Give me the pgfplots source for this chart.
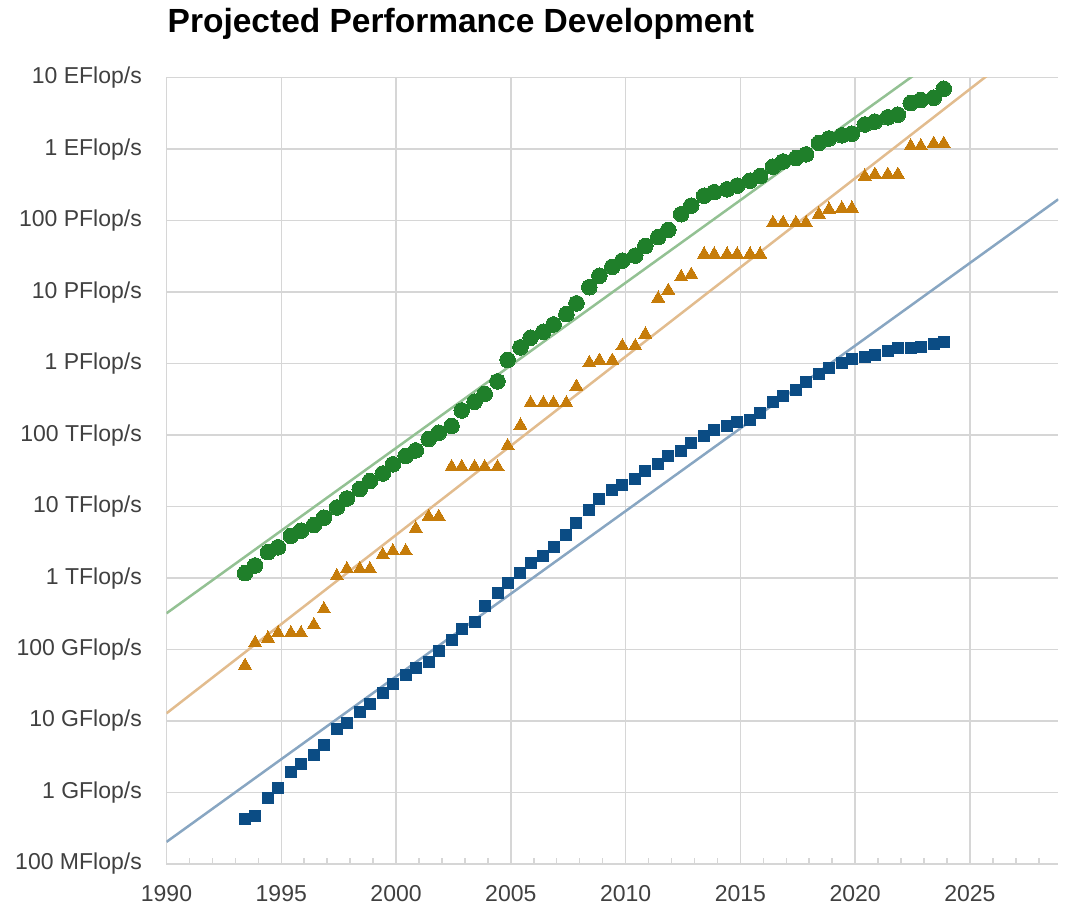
\documentclass[border=0pt]{standalone}
\usepackage{fontspec}
\setmainfont{Liberation Sans}
\usepackage{pgfplots}
\usepackage{pgfplotstable}
\pgfplotsset{compat=1.18}

\definecolor{sumgreen}{HTML}{1F7F2A}
\definecolor{firstorange}{HTML}{C67C0A}
\definecolor{lastblue}{HTML}{0B4C84}
\definecolor{sumtrend}{HTML}{93C193}
\definecolor{firsttrend}{HTML}{E2BC8E}
\definecolor{lasttrend}{HTML}{88A6C2}
\definecolor{gridgray}{HTML}{D6D6D6}
\definecolor{labelgray}{HTML}{404040}

% Sum of all systems, Flop/s
\pgfplotstableread{
x y
1993.42 1.17e12
1993.86 1.50e12
1994.42 2.30e12
1994.86 2.70e12
1995.42 3.90e12
1995.86 4.60e12
1996.42 5.50e12
1996.86 7.00e12
1997.42 9.70e12
1997.86 1.30e13
1998.42 1.76e13
1998.86 2.27e13
1999.42 2.90e13
1999.86 3.90e13
2000.42 5.10e13
2000.86 6.10e13
2001.42 8.80e13
2001.86 1.08e14
2002.42 1.34e14
2002.86 2.21e14
2003.42 2.93e14
2003.86 3.76e14
2004.42 5.64e14
2004.86 1.127e15
2005.42 1.69e15
2005.86 2.30e15
2006.42 2.79e15
2006.86 3.53e15
2007.42 4.92e15
2007.86 6.97e15
2008.42 1.17e16
2008.86 1.695e16
2009.42 2.26e16
2009.86 2.76e16
2010.42 3.24e16
2010.86 4.42e16
2011.42 5.89e16
2011.86 7.42e16
2012.42 1.23e17
2012.86 1.62e17
2013.42 2.23e17
2013.86 2.50e17
2014.42 2.74e17
2014.86 3.09e17
2015.42 3.63e17
2015.86 4.20e17
2016.42 5.67e17
2016.86 6.72e17
2017.42 7.49e17
2017.86 8.45e17
2018.42 1.22e18
2018.86 1.41e18
2019.42 1.56e18
2019.86 1.65e18
2020.42 2.21e18
2020.86 2.43e18
2021.42 2.79e18
2021.86 3.04e18
2022.42 4.40e18
2022.86 4.86e18
2023.42 5.24e18
2023.86 7.01e18
}\sumdata

% Number 1 system
\pgfplotstableread{
x y
1993.42 5.97e10
1993.86 1.24e11
1994.42 1.434e11
1994.86 1.70e11
1995.42 1.70e11
1995.86 1.70e11
1996.42 2.204e11
1996.86 3.682e11
1997.42 1.068e12
1997.86 1.338e12
1998.42 1.338e12
1998.86 1.338e12
1999.42 2.121e12
1999.86 2.379e12
2000.42 2.379e12
2000.86 4.938e12
2001.42 7.226e12
2001.86 7.226e12
2002.42 3.586e13
2002.86 3.586e13
2003.42 3.586e13
2003.86 3.586e13
2004.42 3.586e13
2004.86 7.072e13
2005.42 1.368e14
2005.86 2.806e14
2006.42 2.806e14
2006.86 2.806e14
2007.42 2.806e14
2007.86 4.782e14
2008.42 1.026e15
2008.86 1.105e15
2009.42 1.105e15
2009.86 1.759e15
2010.42 1.759e15
2010.86 2.566e15
2011.42 8.162e15
2011.86 1.051e16
2012.42 1.632e16
2012.86 1.759e16
2013.42 3.386e16
2013.86 3.386e16
2014.42 3.386e16
2014.86 3.386e16
2015.42 3.386e16
2015.86 3.386e16
2016.42 9.301e16
2016.86 9.301e16
2017.42 9.301e16
2017.86 9.301e16
2018.42 1.223e17
2018.86 1.435e17
2019.42 1.486e17
2019.86 1.486e17
2020.42 4.155e17
2020.86 4.420e17
2021.42 4.420e17
2021.86 4.420e17
2022.42 1.102e18
2022.86 1.102e18
2023.42 1.194e18
2023.86 1.194e18
}\firstdata

% Number 500 system
\pgfplotstableread{
x y
1993.42 4.22e8
1993.86 4.72e8
1994.42 8.41e8
1994.86 1.17e9
1995.42 1.96e9
1995.86 2.49e9
1996.42 3.37e9
1996.86 4.62e9
1997.42 7.67e9
1997.86 9.51e9
1998.42 1.34e10
1998.86 1.71e10
1999.42 2.47e10
1999.86 3.31e10
2000.42 4.38e10
2000.86 5.51e10
2001.42 6.78e10
2001.86 9.43e10
2002.42 1.343e11
2002.86 1.958e11
2003.42 2.451e11
2003.86 4.034e11
2004.42 6.24e11
2004.86 8.506e11
2005.42 1.166e12
2005.86 1.646e12
2006.42 2.026e12
2006.86 2.737e12
2007.42 4.005e12
2007.86 5.929e12
2008.42 9.0e12
2008.86 1.264e13
2009.42 1.709e13
2009.86 2.005e13
2010.42 2.467e13
2010.86 3.112e13
2011.42 3.909e13
2011.86 5.094e13
2012.42 6.082e13
2012.86 7.65e13
2013.42 9.662e13
2013.86 1.178e14
2014.42 1.337e14
2014.86 1.534e14
2015.42 1.647e14
2015.86 2.063e14
2016.42 2.859e14
2016.86 3.493e14
2017.42 4.322e14
2017.86 5.487e14
2018.42 7.156e14
2018.86 8.748e14
2019.42 1.022e15
2019.86 1.142e15
2020.42 1.228e15
2020.86 1.317e15
2021.42 1.511e15
2021.86 1.646e15
2022.42 1.646e15
2022.86 1.730e15
2023.42 1.870e15
2023.86 2.020e15
}\lastdata

\begin{document}
\begin{tikzpicture}[x=1pt,y=1pt]
  \useasboundingbox (-166.5,-53) rectangle (902.5,864);
  \node[anchor=base west, inner sep=0pt, font=\fontsize{33.5}{38}\selectfont\bfseries]
    at (1,831) {Projected Performance Development};
  \begin{axis}[
      at={(0,0)}, anchor=south west,
      scale only axis, width=891.8pt, height=786.3pt,
      xmin=1990, xmax=2028.85,
      ymode=log, ymin=1e8, ymax=1e19,
      xtick={1990,1995,2000,2005,2010,2015,2020,2025},
      xticklabels={1990,1995,2000,2005,2010,2015,2020,2025},
      minor xtick={1991,1992,1993,1994,1996,1997,1998,1999,2001,2002,2003,2004,2006,2007,2008,2009,2011,2012,2013,2014,2016,2017,2018,2019,2021,2022,2023,2024,2026,2027,2028},
      ytick={1e8,1e9,1e10,1e11,1e12,1e13,1e14,1e15,1e16,1e17,1e18,1e19},
      yticklabels={100 MFlop/s,1 GFlop/s,10 GFlop/s,100 GFlop/s,1 TFlop/s,10 TFlop/s,100 TFlop/s,1 PFlop/s,10 PFlop/s,100 PFlop/s,1 EFlop/s,10 EFlop/s},
      yminorticks=false,
      grid=major,
      major grid style={gridgray, line width=1.5pt},
      axis line style={draw=none},
      tick align=inside,
      xtick pos=bottom, ytick pos=left,
      major tick length=0pt,
      minor tick length=6pt,
      minor tick style={gridgray, line width=1.5pt},
      tick label style={font=\fontsize{23}{27}\selectfont, text=labelgray},
      yticklabel style={inner sep=0pt, xshift=-24.5pt},
      xticklabel style={inner sep=0pt, yshift=-21pt},
    ]
    % trend lines
    \addplot[sumtrend, line width=2.5pt, no marks] coordinates {(1990,3.214e11) (2028.85,3.08e20)};
    \addplot[firsttrend, line width=2.5pt, no marks] coordinates {(1990,1.282e10) (2028.85,6.33e19)};
    \addplot[lasttrend, line width=2.5pt, no marks] coordinates {(1990,2.037e8) (2028.85,1.99e17)};
    % data
    \addplot[lastblue, only marks, mark=square*, mark size=5.5pt, mark options={draw=lastblue, fill=lastblue, line width=0pt}] table {\lastdata};
    \addplot[firstorange, only marks, mark=triangle*, mark size=7.5pt, mark options={draw=firstorange, fill=firstorange, line width=0pt}] table {\firstdata};
    \addplot[sumgreen, only marks, mark=*, mark size=7.8pt, mark options={draw=sumgreen, fill=sumgreen, line width=0pt}] table {\sumdata};
  \end{axis}
\end{tikzpicture}
\end{document}
